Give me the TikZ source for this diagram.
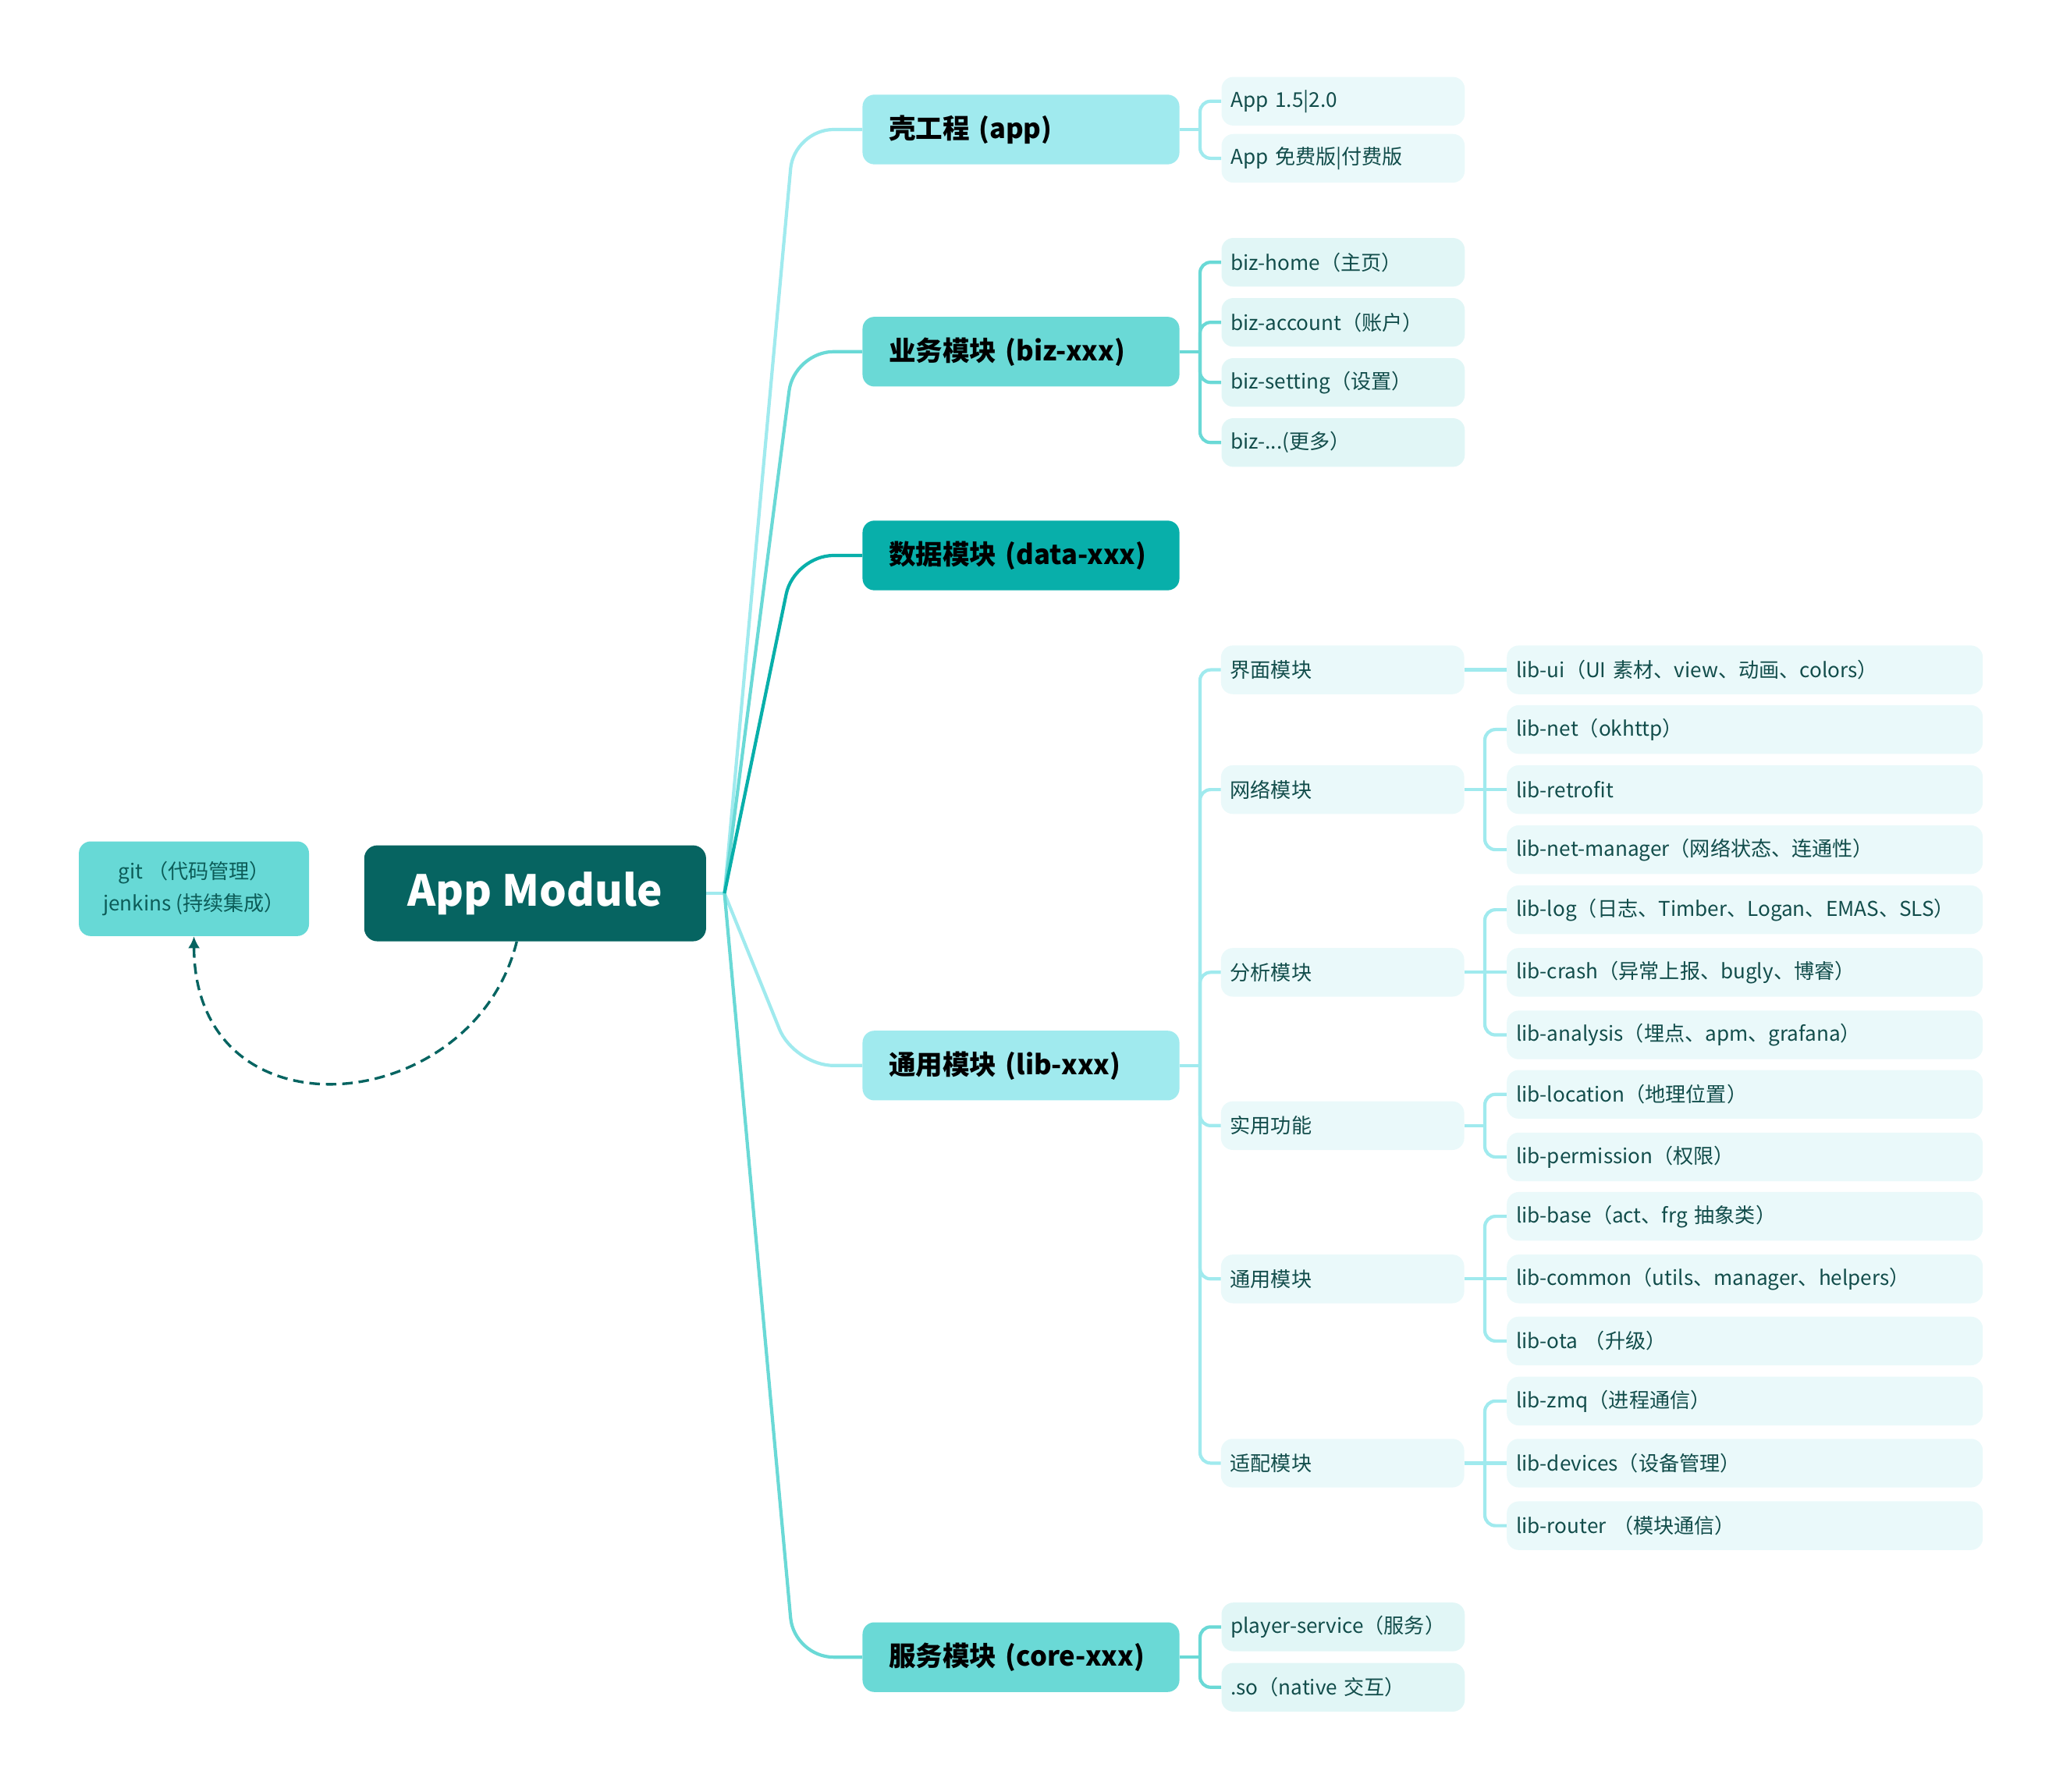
\documentclass[tikz,border=0pt]{standalone}
\usepackage{fontspec}
\setmainfont{Noto Sans CJK SC}
\usepackage{tikz}
\usetikzlibrary{positioning}
\usetikzlibrary{calc}
\usetikzlibrary{arrows.meta}

\definecolor{rootTeal}{HTML}{066461}
\definecolor{gitTeal}{HTML}{67D9D6}
\definecolor{gitText}{HTML}{0C5C58}
\definecolor{paleCyan}{HTML}{A0EAEE}
\definecolor{midTeal}{HTML}{6AD9D6}
\definecolor{deepTeal}{HTML}{08AFAA}
\definecolor{leafCyan}{HTML}{EAF9FA}
\definecolor{leafTeal}{HTML}{E1F6F6}
\definecolor{leafText}{HTML}{124D4B}

\begin{document}
\begin{tikzpicture}[x=1pt,y=-1pt,>={Latex[length=9pt,width=9pt]},node distance=9pt,
    mainbox/.style={rectangle,rounded corners=9pt,minimum height=53pt,text width=201pt,inner xsep=20pt,inner ysep=0pt,align=left,text=black,font=\fontsize{20.5}{24}\selectfont\bfseries},
    leaf/.style={rectangle,rounded corners=9pt,minimum height=37pt,inner xsep=7pt,inner ysep=0pt,align=left,text=leafText,font=\fontsize{15.5}{18}\selectfont},
    midleaf/.style={leaf,text width=171pt},
    wideleaf/.style={leaf,fill=leafCyan,text width=348pt},
    branch/.style={line width=2.5pt,rounded corners=30pt},
    bracket/.style={line width=2.5pt,rounded corners=8pt}]
    \useasboundingbox (0,0) rectangle (1569,1362.6);

    % the root and the tool box
    \node[rectangle,rounded corners=10pt,fill=rootTeal,text=white,minimum width=260pt,minimum height=73pt,inner sep=0pt,font=\fontsize{32.5}{38}\selectfont\bfseries] (appModule) at (407,679.5) {App Module};
    \node[rectangle,rounded corners=9pt,fill=gitTeal,text=gitText,minimum width=175pt,minimum height=72pt,inner sep=0pt,align=center,font=\fontsize{15.5}{24}\selectfont] (gitBox) at (147.5,676) {git （代码管理）\\jenkins (持续集成）};

    % the modules
    \node[mainbox,fill=paleCyan] (shellApp) at (776.5,98.5) {壳工程 (app)};
    \node[mainbox,fill=midTeal] (bizMod) at (776.5,267.5) {业务模块 (biz-xxx)};
    \node[mainbox,fill=deepTeal] (dataMod) at (776.5,422.5) {数据模块 (data-xxx)};
    \node[mainbox,fill=paleCyan] (libMod) at (776.5,810.5) {通用模块 (lib-xxx)};
    \node[mainbox,fill=midTeal] (coreMod) at (776.5,1260.5) {服务模块 (core-xxx)};

    % the leaves of the shell and the business modules
    \node[midleaf,fill=leafCyan] (appVersion) at (1021.5,77) {App 1.5|2.0};
    \node[midleaf,fill=leafCyan,below=6pt of appVersion] (appPaid) {App 免费版|付费版};
    \node[midleaf,fill=leafTeal] (bizHome) at (1021.5,199.5) {biz-home（主页）};
    \node[midleaf,fill=leafTeal,below=8.3pt of bizHome] (bizAccount) {biz-account（账户）};
    \node[midleaf,fill=leafTeal,below=8.3pt of bizAccount] (bizSetting) {biz-setting（设置）};
    \node[midleaf,fill=leafTeal,below=8.3pt of bizSetting] (bizMore) {biz-...(更多）};

    % the lib leaves, one column
    \node[wideleaf] (libUi) at (1327,509.5) {lib-ui（UI 素材、view、动画、colors）};
    \node[wideleaf,below=8pt of libUi] (libNet) {lib-net（okhttp）};
    \node[wideleaf,below=8.3pt of libNet] (libRetrofit) {lib-retrofit};
    \node[wideleaf,below=8.3pt of libRetrofit] (libNetManager) {lib-net-manager（网络状态、连通性）};
    \node[wideleaf,below=8.3pt of libNetManager] (libLog) {lib-log（日志、Timber、Logan、EMAS、SLS）};
    \node[wideleaf,below=10.2pt of libLog] (libCrash) {lib-crash（异常上报、bugly、博睿）};
    \node[wideleaf,below=10.2pt of libCrash] (libAnalysis) {lib-analysis（埋点、apm、grafana）};
    \node[wideleaf,below=7.8pt of libAnalysis] (libLocation) {lib-location（地理位置）};
    \node[wideleaf,below=10.2pt of libLocation] (libPermission) {lib-permission（权限）};
    \node[wideleaf,below=7.8pt of libPermission] (libBase) {lib-base（act、frg 抽象类）};
    \node[wideleaf,below=10.2pt of libBase] (libCommon) {lib-common（utils、manager、helpers）};
    \node[wideleaf,below=9.8pt of libCommon] (libOta) {lib-ota （升级）};
    \node[wideleaf,below=8.3pt of libOta] (libZmq) {lib-zmq（进程通信）};
    \node[wideleaf,below=9.8pt of libZmq] (libDevices) {lib-devices（设备管理）};
    \node[wideleaf,below=10.2pt of libDevices] (libRouter) {lib-router （模块通信）};

    % the lib groups
    \coordinate (useMid) at ($(libLocation.west)!0.5!(libPermission.west)$);
    \node[midleaf,fill=leafCyan,left=32pt of libUi] (uiMod) {界面模块};
    \node[midleaf,fill=leafCyan,left=32pt of libRetrofit] (netMod) {网络模块};
    \node[midleaf,fill=leafCyan,left=32pt of libCrash] (anaMod) {分析模块};
    \node[midleaf,fill=leafCyan,left=32pt of useMid] (useMod) {实用功能};
    \node[midleaf,fill=leafCyan,left=32pt of libCommon] (comMod) {通用模块};
    \node[midleaf,fill=leafCyan,left=32pt of libDevices] (adaMod) {适配模块};

    % the service leaves
    \node[midleaf,fill=leafTeal] (playerService) at (1021.5,1237.5) {player-service（服务）};
    \node[midleaf,fill=leafTeal,below=8.5pt of playerService] (soLib) {.so（native 交互）};

    % the branches from the root
    \coordinate (hub) at (551,679.5);
    \coordinate (bend) at (604,0);
    \draw[line width=2.5pt,paleCyan] (appModule.east) -- (hub);
    \foreach \mod/\col in {shellApp/paleCyan,bizMod/midTeal,libMod/paleCyan,coreMod/midTeal,dataMod/deepTeal}
        \draw[branch,\col] (hub) -- (bend |- \mod.west) -- (\mod.west);

    % the brackets
    \foreach \grp/\col/\leaves in {shellApp/paleCyan/{appVersion,appPaid},
            bizMod/midTeal/{bizHome,bizAccount,bizSetting,bizMore},
            libMod/paleCyan/{uiMod,netMod,anaMod,useMod,comMod,adaMod},
            coreMod/midTeal/{playerService,soLib},
            netMod/paleCyan/{libNet,libNetManager},
            anaMod/paleCyan/{libLog,libAnalysis},
            useMod/paleCyan/{libLocation,libPermission},
            comMod/paleCyan/{libBase,libOta},
            adaMod/paleCyan/{libZmq,libRouter}}
    {
        \draw[bracket,\col] (\grp.east) -- ++(15.5,0) coordinate (grpHub);
        \foreach \leaf in \leaves
            \draw[bracket,\col] (grpHub) |- (\leaf.west);
    }
    \foreach \grp/\leaf in {uiMod/libUi,netMod/libRetrofit,anaMod/libCrash,comMod/libCommon,adaMod/libDevices}
        \draw[bracket,paleCyan] (\grp) -- (\leaf);

    % the dashed arrow back to the tools
    \draw[->,rootTeal,line width=2pt,dash pattern=on 8pt off 4.5pt] ($(appModule.south)+(-14,0)$) .. controls (360,850) and (148,870) .. (gitBox.south);
\end{tikzpicture}
\end{document}
